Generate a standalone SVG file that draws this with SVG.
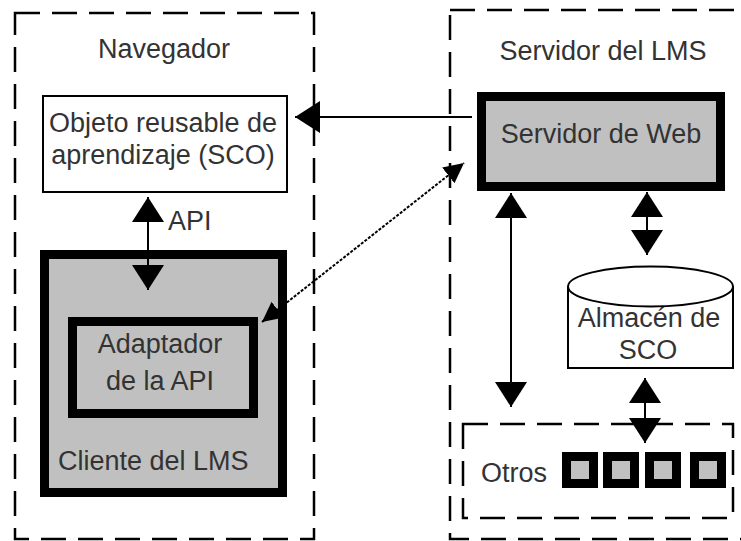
<svg xmlns="http://www.w3.org/2000/svg" width="741" height="541" viewBox="0 0 741 541">
<style>
.t{font-family:"Liberation Sans",Arial,sans-serif;font-size:27px;fill:#333}
.m{text-anchor:middle}
.dash{fill:none;stroke:#000;stroke-width:2.5;stroke-dasharray:25 12}
.thick{fill:#c0c0c0;stroke:#000;stroke-width:9}
.ln{fill:none;stroke:#000;stroke-width:2}
</style>
<defs>
<marker id="ah" viewBox="0 0 25 32" markerWidth="25" markerHeight="32" refX="25" refY="16" orient="auto-start-reverse" markerUnits="userSpaceOnUse">
<path d="M0,0 L25,16 L0,32 Z" fill="#000"/>
</marker>
<marker id="ahs" viewBox="0 0 20 20" markerWidth="20" markerHeight="20" refX="20" refY="10" orient="auto-start-reverse" markerUnits="userSpaceOnUse">
<path d="M0,0 L20,10 L0,20 Z" fill="#000"/>
</marker>
</defs>
<rect width="741" height="541" fill="#fff"/>
<g id="navegador">
<rect class="dash" x="15" y="13" width="299" height="526"/>
<text class="t m" x="164" y="58">Navegador</text>
</g>
<g id="servidor-lms">
<rect class="dash" x="450" y="10" width="300" height="529"/>
<text class="t m" x="603" y="60">Servidor del LMS</text>
</g>
<g id="sco">
<rect x="43" y="96" width="244" height="96" fill="#fff" stroke="#000" stroke-width="2"/>
<text class="t m" x="163" y="132">Objeto reusable de</text>
<text class="t m" x="163" y="164">aprendizaje (SCO)</text>
</g>
<g id="cliente">
<rect class="thick" x="44.5" y="254.5" width="238" height="238"/>
<text class="t" x="58" y="470">Cliente del LMS</text>
</g>
<g id="adaptador">
<rect class="thick" x="72.5" y="321.5" width="181" height="92"/>
<text class="t m" x="160" y="353">Adaptador</text>
<text class="t m" x="160" y="390">de la API</text>
</g>
<g id="servidor-web">
<rect class="thick" x="481.5" y="96.5" width="239" height="90"/>
<text class="t m" x="601" y="143">Servidor de Web</text>
</g>
<g id="almacen">
<path d="M568,286.5 L568,368 L733,368 L733,286.5" fill="#fff" stroke="#000" stroke-width="2"/>
<ellipse cx="650.5" cy="286.5" rx="82.5" ry="20" fill="#fff" stroke="#000" stroke-width="2"/>
<text class="t m" x="649" y="327">Almacén de</text>
<text class="t m" x="648" y="359">SCO</text>
</g>
<g id="otros">
<rect class="dash" x="463" y="424" width="270" height="94"/>
<text class="t" x="481" y="482">Otros</text>
<rect class="thick" x="566.5" y="456.5" width="27" height="27"/>
<rect class="thick" x="607.5" y="456.5" width="27" height="27"/>
<rect class="thick" x="649.5" y="456.5" width="27" height="27"/>
<rect class="thick" x="694.5" y="456.5" width="27" height="27"/>
</g>
<g id="connectors">
<line class="ln" x1="472" y1="117" x2="295" y2="117" marker-end="url(#ah)"/>
<text class="t" x="168" y="230">API</text>
<line class="ln" x1="148" y1="197" x2="148" y2="290" marker-start="url(#ah)" marker-end="url(#ah)"/>
<line class="ln" x1="262" y1="322" x2="464" y2="163" stroke-dasharray="3 1.5" stroke-width="1.5" marker-start="url(#ahs)" marker-end="url(#ahs)"/>
<line class="ln" x1="511" y1="193" x2="511" y2="407" marker-start="url(#ah)" marker-end="url(#ah)"/>
<line class="ln" x1="647" y1="192" x2="647" y2="255" marker-start="url(#ah)" marker-end="url(#ah)"/>
<line class="ln" x1="645" y1="378" x2="645" y2="443" marker-start="url(#ah)" marker-end="url(#ah)"/>
</g>
</svg>
